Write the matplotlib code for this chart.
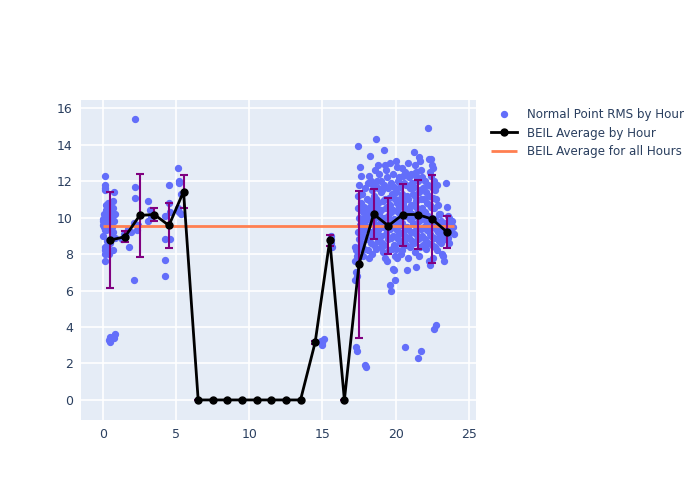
import matplotlib.pyplot as plt
import numpy as np

# scatter points: (hour of day, normal point RMS)
morning_hours = [0.0, 0.0, 0.0, 0.05, 0.0, 0.1, 0.1, 0.1, 0.15, 0.1, 0.1, 0.15, 0.15,
                 0.2, 0.2, 0.25, 0.3, 0.3, 0.3, 0.35, 0.4, 0.4, 0.45, 0.5, 0.5, 0.55,
                 0.6, 0.6, 0.65, 0.7, 0.7, 0.75, 0.75, 0.8, 0.8, 0.7, 0.3, 0.4, 0.45,
                 0.5, 0.75, 0.8, 0.75, 0.2, 0.25, 0.4, 0.5, 0.6, 0.05, 0.1,
                 1.3, 1.5, 1.8, 1.9, 1.7, 1.4,
                 2.2, 2.2, 2.2, 2.1, 2.3, 2.4, 2.1,
                 3.1, 3.2, 3.1, 3.3,
                 4.2, 4.2, 4.2, 4.2, 4.5, 4.5, 4.6, 4.6,
                 5.1, 5.2, 5.2, 5.3, 5.1, 5.2, 5.3]
morning_rms = [9.8, 9.6, 9.9, 9.5, 9.0, 8.2, 8.0, 7.6, 8.4, 11.8, 11.6, 11.5, 12.3,
               10.7, 10.4, 10.1, 9.7, 10.0, 9.4, 10.8, 10.5, 10.2, 9.9, 9.7, 10.6, 10.3,
               10.0, 9.5, 9.2, 10.9, 10.5, 11.4, 9.8, 10.2, 8.9, 8.2, 8.5, 3.3, 3.2,
               3.45, 3.5, 3.6, 3.4, 9.3, 8.7, 8.0, 8.6, 9.0, 10.2, 9.3,
               8.8, 9.0, 8.4, 9.2, 9.4, 9.1,
               15.4, 11.7, 11.1, 6.6, 9.3, 9.6, 9.7,
               10.9, 10.4, 9.8, 10.1,
               10.1, 8.8, 7.7, 6.8, 10.8, 11.8, 8.8, 10.3,
               12.7, 12.0, 11.9, 11.3, 10.5, 10.3, 10.2]

midday_hours = [14.9, 15.0, 15.0, 15.1, 15.6, 15.6, 15.6, 15.65]
midday_rms = [3.25, 3.1, 3.0, 3.35, 9.0, 8.8, 8.6, 8.4]

evening_cols = [17.3, 17.5, 17.7, 17.9, 18.1, 18.3, 18.5, 18.7, 18.9, 19.1, 19.3,
                19.5, 19.7, 19.9, 20.1, 20.3, 20.5, 20.7, 20.9, 21.1, 21.3, 21.5,
                21.7, 21.9, 22.1, 22.3, 22.5, 22.7, 22.9, 23.1, 23.3, 23.5, 23.7, 23.9]
evening_rms = [
    [8.4, 8.2, 7.9, 7.6, 7.0, 6.8, 6.6, 2.9, 2.7],
    [10.5, 10.0, 9.6, 9.2, 8.8, 8.4, 11.2, 11.8, 12.8, 13.9],
    [9.9, 9.5, 10.3, 10.8, 11.3, 9.0, 8.6, 8.2, 7.9, 12.3],
    [9.3, 9.8, 10.1, 10.6, 11.6, 8.9, 8.3, 1.9, 1.8],
    [9.5, 10.0, 10.4, 11.0, 11.9, 12.3, 8.8, 8.2, 7.8],
    [13.4, 12.0, 11.5, 10.9, 10.2, 9.7, 9.2, 8.6, 8.0, 10.6],
    [11.8, 11.2, 10.7, 10.3, 9.9, 9.4, 9.0, 8.5, 12.6, 10.0],
    [14.3, 12.0, 11.6, 11.0, 10.5, 10.1, 9.6, 9.1, 8.7, 8.3],
    [12.9, 12.4, 11.4, 10.8, 10.2, 9.8, 9.3, 8.9, 8.4],
    [12.0, 11.5, 10.9, 10.4, 9.9, 9.5, 9.0, 8.6, 8.1],
    [13.7, 12.9, 12.6, 11.8, 11.0, 10.5, 10.0, 9.6, 9.1, 8.5, 7.8],
    [12.2, 11.6, 11.1, 10.6, 10.1, 9.7, 9.3, 8.8, 8.2, 7.6],
    [13.0, 11.9, 11.3, 10.7, 10.3, 9.8, 9.4, 8.9, 8.3, 6.3, 6.0],
    [12.4, 11.7, 11.0, 10.4, 9.9, 9.5, 9.0, 8.5, 7.9, 7.2, 7.1, 6.6],
    [13.1, 12.8, 12.0, 11.4, 10.8, 10.3, 9.8, 9.3, 8.8, 8.3, 7.8],
    [12.2, 11.7, 11.1, 10.6, 10.0, 9.6, 9.1, 8.6, 8.0],
    [12.7, 12.3, 11.9, 11.3, 10.8, 10.2, 9.7, 9.2, 8.7, 8.2],
    [12.5, 11.8, 11.2, 10.5, 10.1, 9.5, 9.0, 8.5, 7.1, 2.9],
    [13.0, 12.2, 11.6, 11.0, 10.4, 9.9, 9.4, 8.9, 8.4, 7.8],
    [12.4, 11.9, 11.3, 10.7, 10.2, 9.7, 9.2, 8.7],
    [13.6, 12.9, 12.3, 11.7, 11.2, 10.6, 10.1, 9.6, 9.1, 8.6, 8.1],
    [12.5, 12.0, 11.4, 10.9, 10.3, 9.8, 9.3, 8.8, 7.9, 7.3, 2.3],
    [13.3, 13.1, 12.6, 12.1, 11.5, 11.0, 10.4, 9.9, 9.4, 8.9, 8.4, 2.7],
    [12.2, 11.6, 11.0, 10.5, 10.0, 9.5, 9.0, 8.5],
    [12.0, 11.4, 10.8, 10.3, 9.8, 9.3, 8.8, 8.3],
    [14.9, 13.2, 12.5, 11.8, 11.2, 10.7, 10.1, 9.6, 9.1, 8.6, 7.6, 7.4],
    [13.2, 12.9, 12.7, 12.3, 11.7, 11.1, 10.6, 10.0, 9.5, 9.0, 8.5, 7.8],
    [12.0, 11.5, 11.0, 10.5, 9.9, 9.4, 8.9, 8.4, 4.1, 3.9],
    [11.8, 10.7, 10.2, 9.7, 9.2, 8.7, 8.2],
    [10.2, 9.8, 9.4, 9.0, 8.6, 8.0],
    [9.6, 9.2, 8.8, 7.9, 7.6],
    [11.9, 10.6, 10.1, 9.7, 9.3, 8.9],
    [10.0, 9.6, 9.2, 8.6],
    [9.8, 9.5, 9.1],
]

# hourly averages and spread
avg_hours = [0.5, 1.5, 2.5, 3.5, 4.5, 5.5, 6.5, 7.5, 8.5, 9.5, 10.5, 11.5, 12.5,
             13.5, 14.5, 15.5, 16.5, 17.5, 18.5, 19.5, 20.5, 21.5, 22.5, 23.5]
avg_rms = [8.77, 8.95, 10.12, 10.17, 9.57, 11.43, 0, 0, 0, 0, 0, 0, 0,
           0, 3.16, 8.77, 0, 7.45, 10.19, 9.55, 10.17, 10.17, 9.92, 9.22]
avg_err = [2.63, 0.3, 2.27, 0.35, 1.25, 0.9, 0, 0, 0, 0, 0, 0, 0,
           0, 0.1, 0.3, 0, 4.03, 1.37, 1.55, 1.7, 1.9, 2.4, 0.87]
overall_avg = 9.53

ev_h, ev_r = [], []
for h, vals in zip(evening_cols, evening_rms):
    for k, v in enumerate(vals):
        ev_h.append(h + (k % 3 - 1) * 0.07)
        ev_r.append(v)

hours = morning_hours + midday_hours + ev_h
rms = morning_rms + midday_rms + ev_r

fig = plt.figure(figsize=(7, 5), dpi=100)
ax = fig.add_axes([0.116, 0.16, 0.564, 0.64])
ax.set_facecolor('#E5ECF6')
for s in ax.spines.values():
    s.set_visible(False)
ax.grid(color='white', linewidth=1.2)
ax.set_axisbelow(True)

ax.scatter(hours, rms, s=18, color='#636EFA', label='Normal Point RMS by Hour', zorder=2)
ax.hlines(overall_avg, min(hours), max(hours), color='#FF7F50', linewidth=2,
          label='BEIL Average for all Hours', zorder=3)
ax.errorbar(avg_hours, avg_rms, yerr=avg_err, fmt='none', ecolor='purple',
            elinewidth=1.5, capsize=3, capthick=1.5, zorder=4)
ax.plot(avg_hours, avg_rms, color='black', marker='o', markersize=5, linewidth=2,
        label='BEIL Average by Hour', zorder=5)

ax.set_xlim(-1.5, 25.5)
ax.set_ylim(-1.1, 16.45)
ax.set_xticks([0, 5, 10, 15, 20, 25])
ax.set_yticks(range(0, 17, 2))
ax.tick_params(length=0, labelsize=9, labelcolor='#2a3f5f', pad=6)

handles, labels = ax.get_legend_handles_labels()
order = [0, 2, 1]
leg = ax.legend([handles[i] for i in order], [labels[i] for i in order],
                loc='upper left', bbox_to_anchor=(1.01, 1.01), frameon=False,
                fontsize=8.6, labelcolor='#2a3f5f', handlelength=2.2)

fig.savefig('out.png')
